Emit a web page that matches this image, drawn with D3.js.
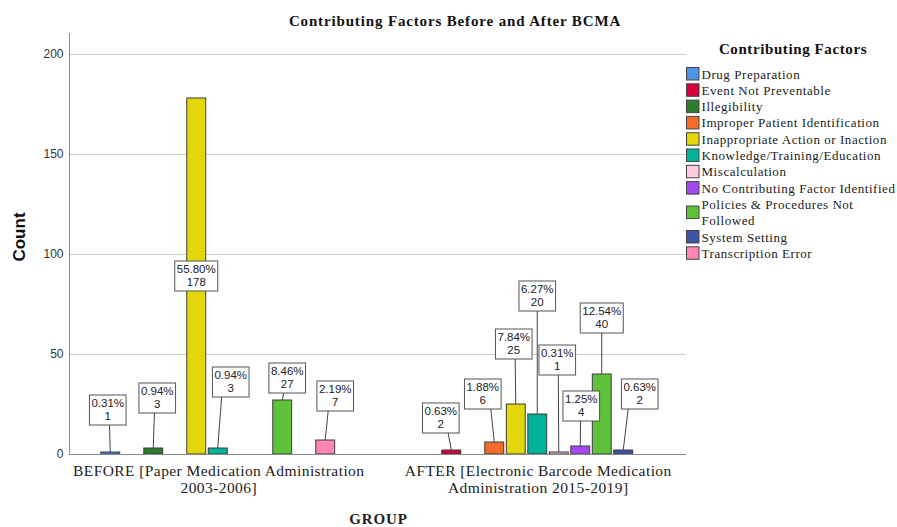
<!DOCTYPE html>
<html><head><meta charset="utf-8">
<script src="https://cdn.jsdelivr.net/npm/d3@7"></script>
<style>body{margin:0;background:#fff}</style>
</head><body><svg id="c" width="897" height="527"></svg>
<script>
const groupKeys = ["BEFORE", "AFTER"];
const groupLines = [["BEFORE [Paper Medication Administration", "2003-2006]"],
                    ["AFTER [Electronic Barcode Medication", "Administration 2015-2019]"]];
const factors = ["Drug Preparation", "Event Not Preventable", "Illegibility",
  "Improper Patient Identification", "Inappropriate Action or Inaction",
  "Knowledge/Training/Education", "Miscalculation", "No Contributing Factor Identified",
  "Policies & Procedures Not Followed", "System Setting", "Transcription Error"];
const legendLines = [["Drug Preparation"], ["Event Not Preventable"], ["Illegibility"],
  ["Improper Patient Identification"], ["Inappropriate Action or Inaction"],
  ["Knowledge/Training/Education"], ["Miscalculation"], ["No Contributing Factor Identified"],
  ["Policies & Procedures Not", "Followed"], ["System Setting"], ["Transcription Error"]];
const colors = ["#4f93e3", "#d4003a", "#2b7d2b", "#f26b2a", "#e3d70b", "#00b29a",
  "#ffc9e1", "#a548f0", "#5ec23b", "#3b55a2", "#ff85b5"];
const beforeCounts = [1, 0, 3, 0, 178, 3, 0, 0, 27, 0, 7];
const afterCounts  = [0, 2, 0, 6, 25, 20, 1, 4, 40, 2, 0];
const yTicks = [0, 50, 100, 150, 200];
// label box placement (box centre height in count units, horizontal nudge in px)
const beforeLabelAt    = [22, null, 28, null, 89, 36, null, null, 38, null, 29];
const beforeLabelNudge = [-2.5, 0, 4, 0, 0, 13, 0, 0, 5, 0, 10];
const afterLabelAt     = [null, 18, null, 30, 55, 79, 47, 24, 68, 30, null];
const afterLabelNudge  = [0, -10.5, 0, -11.5, -2, 0, -1.5, 1, 0, 16.5, 0];

const counts = [beforeCounts, afterCounts];
const labelAt = [beforeLabelAt, afterLabelAt];
const labelNudge = [beforeLabelNudge, afterLabelNudge];
const total = d3.sum(beforeCounts) + d3.sum(afterCounts);

const svg = d3.select("#c");
const L = 69, R = 686, T = 33, B = 454;
const serif = "Liberation Serif, Times New Roman, serif";
const sans = "Arial, Liberation Sans, sans-serif";

const y = d3.scaleLinear().domain([0, 200]).range([B, 54]);
const x0 = d3.scaleBand().domain(groupKeys).range([L, R]).paddingInner(0.26).paddingOuter(0.0955);
const x1 = d3.scaleBand().domain(factors).range([0, x0.bandwidth()]).paddingInner(0.12).paddingOuter(0.06);

// title
svg.append("text").attr("x", 455).attr("y", 26).attr("text-anchor", "middle")
  .attr("font-family", serif).attr("font-weight", "bold").attr("font-size", 15)
  .attr("letter-spacing", 0.85).attr("fill", "#111").text("Contributing Factors Before and After BCMA");

// gridlines
svg.append("g").selectAll("line").data(yTicks.filter(d => d > 0)).join("line")
  .attr("x1", L).attr("x2", R).attr("y1", d => y(d) + 0.5).attr("y2", d => y(d) + 0.5)
  .attr("stroke", "#cfcfcf").attr("stroke-width", 1);

// y axis
const yAxis = svg.append("g").attr("transform", `translate(${L + 0.5},0)`)
  .call(d3.axisLeft(y).tickValues(yTicks).tickSize(0).tickPadding(6));
yAxis.select(".domain").attr("stroke", "#8a8a8a").attr("d", `M0,${T}V${B}`);
yAxis.selectAll("text").attr("font-family", sans).attr("font-size", 12).attr("fill", "#333");

svg.append("text").attr("transform", `translate(25,237) rotate(-90)`).attr("text-anchor", "middle")
  .attr("font-family", sans).attr("font-weight", "bold")
  .attr("font-size", 17).attr("fill", "#111").text("Count");

// bars
const gGroups = svg.append("g").selectAll("g").data(groupKeys).join("g")
  .attr("transform", d => `translate(${x0(d)},0)`);
gGroups.each(function(gk, gi) {
  const g = d3.select(this);
  const data = factors.map((f, i) => ({f, i, v: counts[gi][i]})).filter(d => d.v > 0);
  g.selectAll("rect").data(data).join("rect")
    .attr("x", d => x1(d.f)).attr("width", x1.bandwidth())
    .attr("y", d => y(d.v)).attr("height", d => y(0) - y(d.v))
    .attr("fill", d => colors[d.i]).attr("stroke", "#3c3c3c").attr("stroke-width", 1);
});

// x baseline
svg.append("line").attr("x1", L).attr("x2", R).attr("y1", B + 0.5).attr("y2", B + 0.5)
  .attr("stroke", "#8a8a8a").attr("stroke-width", 1.2);

// data labels
const lab = svg.append("g");
groupKeys.forEach((gk, gi) => {
  factors.forEach((f, i) => {
    const v = counts[gi][i];
    if (!v) return;
    const bx = x0(gk) + x1(f) + x1.bandwidth() / 2;
    const cx = bx + labelNudge[gi][i];
    const cy = y(labelAt[gi][i]);
    const pct = (v / total * 100).toFixed(2) + "%";
    const h = 30;
    const gg = lab.append("g");
    const t1 = gg.append("text").attr("x", cx).attr("y", cy - 3).attr("text-anchor", "middle")
      .attr("font-family", sans).attr("font-size", 11.5).attr("fill", "#222").text(pct);
    gg.append("text").attr("x", cx).attr("y", cy + 10).attr("text-anchor", "middle")
      .attr("font-family", sans).attr("font-size", 11.5).attr("fill", "#222").text(v);
    const w = Math.max(36, t1.node().getComputedTextLength() + 4);
    gg.insert("rect", "text").attr("x", cx - w / 2).attr("y", cy - h / 2).attr("width", w).attr("height", h)
      .attr("fill", "#fff").attr("stroke", "#555").attr("stroke-width", 1);
    const barTop = y(v);
    if (cy + h / 2 < barTop) {
      lab.insert("line", ":first-child")
        .attr("x1", bx + labelNudge[gi][i] * 0.3).attr("y1", cy + h / 2)
        .attr("x2", bx).attr("y2", barTop)
        .attr("stroke", "#444").attr("stroke-width", 1);
    }
  });
});

// group labels
groupKeys.forEach((gk, gi) => {
  const cx = x0(gk) + x0.bandwidth() / 2 + 1;
  const t = svg.append("text").attr("text-anchor", "middle")
    .attr("font-family", serif).attr("font-size", 15.5).attr("letter-spacing", 0.42).attr("fill", "#222");
  groupLines[gi].forEach((ln, k) => t.append("tspan").attr("x", cx).attr("y", 476 + k * 17).text(ln));
});
svg.append("text").attr("x", (L + R) / 2 + 1).attr("y", 524).attr("text-anchor", "middle")
  .attr("font-family", serif).attr("font-weight", "bold").attr("font-size", 15).attr("letter-spacing", 0.9)
  .attr("fill", "#222").text("GROUP");

// legend
const lg = svg.append("g");
lg.append("text").attr("x", 793).attr("y", 54).attr("text-anchor", "middle")
  .attr("font-family", serif).attr("font-weight", "bold").attr("font-size", 15).attr("letter-spacing", 0.6)
  .attr("fill", "#111").text("Contributing Factors");
let row = 0;
const rowH = 16.3, top0 = 74;
factors.forEach((f, i) => {
  const n = legendLines[i].length;
  const cyc = top0 + (row + (n - 1) / 2) * rowH;
  lg.append("rect").attr("x", 686.5).attr("y", cyc - 6.5).attr("width", 12.5).attr("height", 12.5)
    .attr("fill", colors[i]).attr("stroke", "#444").attr("stroke-width", 1);
  legendLines[i].forEach((ln, k) => {
    lg.append("text").attr("x", 701.5).attr("y", top0 + (row + k) * rowH + 4.5)
      .attr("font-family", serif).attr("font-size", 13).attr("letter-spacing", 0.55)
      .attr("fill", "#222").text(ln);
  });
  row += n;
});
</script></body></html>
